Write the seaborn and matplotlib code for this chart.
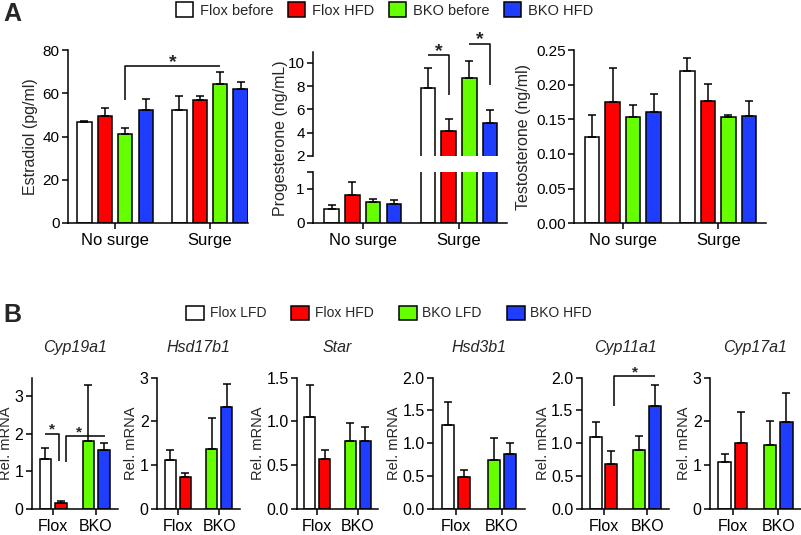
import matplotlib
matplotlib.use("Agg")
import matplotlib.pyplot as plt
import seaborn as sns
import pandas as pd
from matplotlib.patches import Patch

# ---------------------------------------------------
# Data (err = upper SEM)
# ---------------------------------------------------
surge_groups = ["No surge", "Surge"]
a_conditions = ["Flox before", "Flox HFD", "BKO before", "BKO HFD"]

estradiol_no_surge = [46.6, 49.5, 41.3, 52.1]
estradiol_surge = [52.4, 56.7, 64.1, 62.0]
estradiol_err_no_surge = [0.7, 3.5, 2.8, 5.1]
estradiol_err_surge = [6.3, 2.0, 5.6, 3.3]

progesterone_no_surge = [0.42, 0.83, 0.62, 0.55]
progesterone_surge = [7.80, 4.14, 8.72, 4.80]
progesterone_err_no_surge = [0.11, 0.35, 0.09, 0.11]
progesterone_err_surge = [1.78, 1.03, 1.43, 1.12]

testosterone_no_surge = [0.125, 0.175, 0.154, 0.161]
testosterone_surge = [0.219, 0.176, 0.154, 0.155]
testosterone_err_no_surge = [0.031, 0.049, 0.016, 0.026]
testosterone_err_surge = [0.019, 0.025, 0.002, 0.021]

genotypes = ["Flox", "BKO"]
diets = ["LFD", "HFD"]
b_conditions = ["Flox LFD", "Flox HFD", "BKO LFD", "BKO HFD"]
genes = ["Cyp19a1", "Hsd17b1", "Star", "Hsd3b1", "Cyp11a1", "Cyp17a1"]
# order: Flox LFD, Flox HFD, BKO LFD, BKO HFD
cyp19a1_mean = [1.34, 0.17, 1.80, 1.58]
cyp19a1_err = [0.28, 0.04, 1.51, 0.17]
hsd17b1_mean = [1.11, 0.73, 1.37, 2.33]
hsd17b1_err = [0.23, 0.08, 0.70, 0.53]
star_mean = [1.05, 0.57, 0.78, 0.78]
star_err = [0.36, 0.10, 0.20, 0.15]
hsd3b1_mean = [1.27, 0.48, 0.75, 0.84]
hsd3b1_err = [0.36, 0.11, 0.33, 0.17]
cyp11a1_mean = [1.10, 0.68, 0.90, 1.56]
cyp11a1_err = [0.23, 0.20, 0.21, 0.33]
cyp17a1_mean = [1.07, 1.50, 1.46, 1.99]
cyp17a1_err = [0.18, 0.71, 0.54, 0.65]

colors = ["#ffffff", "#ff0000", "#66ff00", "#1f3dff"]

# ---------------------------------------------------
# Style / helpers
# ---------------------------------------------------
sns.set_theme(style="ticks")
plt.rcParams["font.family"] = ["Liberation Sans", "DejaVu Sans"]
LW = 1.1
W, H = 801, 535

fig = plt.figure(figsize=(W / 100, H / 100), dpi=100)


def px_axes(left, top, right, bottom):
    return fig.add_axes([left / W, 1 - bottom / H, (right - left) / W, (bottom - top) / H])


def style_axes(ax, ticksize, xsize):
    sns.despine(ax=ax)
    for s in ["left", "bottom"]:
        ax.spines[s].set_linewidth(LW)
        ax.spines[s].set_color("black")
    ax.tick_params(width=LW, length=4, pad=2, color="black", labelcolor="black")
    ax.tick_params(axis="y", labelsize=ticksize)
    ax.tick_params(axis="x", labelsize=xsize, pad=3)
    ax.set_xlabel("")


def draw_bars(ax, df, x, hue, order, hue_order, palette, width, gap):
    sns.barplot(data=df, x=x, y="mean", hue=hue, order=order, hue_order=hue_order,
                palette=palette, saturation=1, width=width, gap=gap, errorbar=None,
                edgecolor="black", linewidth=LW, legend=False, ax=ax)
    centers = {}
    for cont, h in zip(ax.containers, hue_order):
        for bar in cont:
            cx = bar.get_x() + bar.get_width() / 2
            g = order[int(round(cx))]
            centers[(g, h)] = cx
            r = df[(df[x] == g) & (df[hue] == h)].iloc[0]
            ax.errorbar(cx, r["mean"], yerr=[[0], [r["err"]]], fmt="none", ecolor="black",
                        elinewidth=LW, capsize=2.8, capthick=LW)
    return centers


def bracket(ax, xs, ys):
    ax.plot(xs, ys, color="black", lw=LW, clip_on=False, solid_capstyle="butt")


def star(ax, x, y, size, dy=0):
    ax.annotate("*", xy=(x, y), xytext=(0, dy), textcoords="offset points",
                ha="center", va="baseline", fontsize=size, fontweight="bold",
                annotation_clip=False)


def surge_frame(ns, s, ens, es):
    return pd.DataFrame({"group": [surge_groups[0]] * 4 + [surge_groups[1]] * 4,
                         "cond": a_conditions * 2,
                         "mean": ns + s,
                         "err": ens + es})


# ---------------------------------------------------
# Panel A
# ---------------------------------------------------
estr = surge_frame(estradiol_no_surge, estradiol_surge, estradiol_err_no_surge, estradiol_err_surge)
prog = surge_frame(progesterone_no_surge, progesterone_surge, progesterone_err_no_surge, progesterone_err_surge)
test = surge_frame(testosterone_no_surge, testosterone_surge, testosterone_err_no_surge, testosterone_err_surge)

# Estradiol
ax = px_axes(68, 50, 248, 223)
c = draw_bars(ax, estr, "group", "cond", surge_groups, a_conditions, colors, 0.86, 0.3)
style_axes(ax, 11, 12)
ax.set_ylim(0, 80)
ax.set_xlim(-0.495, 1.40)
ax.set_yticks([0, 20, 40, 60, 80])
ax.set_ylabel("Estradiol (pg/ml)", fontsize=11.5, labelpad=3)
x0, x1 = c[("No surge", "BKO before")], c[("Surge", "BKO before")]
bracket(ax, [x0, x0, x1], [56.9, 72.6, 72.6])
star(ax, (x0 + x1) / 2, 72.6, 14, -1)

# Progesterone (broken axis)
ax_up = px_axes(313, 51.7, 507, 156)
ax_lo = px_axes(313, 171.5, 507, 223)
for a in (ax_up, ax_lo):
    c = draw_bars(a, prog, "group", "cond", surge_groups, a_conditions, colors, 0.86, 0.3)
    style_axes(a, 11, 12)
    a.set_xlim(-0.516, 1.498)
    a.set_ylabel("")
ax_up.set_ylim(2, 10.95)
ax_up.set_yticks([2, 4, 6, 8, 10])
ax_up.spines["bottom"].set_visible(False)
ax_up.tick_params(axis="x", bottom=False, labelbottom=False)
ax_lo.set_ylim(0, 1.5)
ax_lo.set_yticks([0, 1, 1.5])
ax_lo.set_yticklabels(["0", "1", ""])
fig.text(280 / W, 1 - 138 / H, "Progesterone (ng/mL)", rotation=90, ha="center", va="center",
         fontsize=11.5)
x0, x1 = c[("Surge", "Flox before")], c[("Surge", "Flox HFD")]
bracket(ax_up, [x0, x1, x1], [10.66, 10.66, 7.23])
star(ax_up, (x0 + x1) / 2, 10.66, 14, -1)
x0, x1 = c[("Surge", "BKO before")], c[("Surge", "BKO HFD")]
bracket(ax_up, [x0, x1, x1], [11.6, 11.6, 8.1])
star(ax_up, (x0 + x1) / 2, 11.6, 14, 0)

# Testosterone
ax = px_axes(574.3, 50, 766, 223.3)
draw_bars(ax, test, "group", "cond", surge_groups, a_conditions, colors, 0.86, 0.3)
style_axes(ax, 11, 12)
ax.set_ylim(0, 0.25)
ax.set_xlim(-0.508, 1.501)
ax.set_yticks([0, 0.05, 0.10, 0.15, 0.20, 0.25])
ax.set_yticklabels([f"{v:.2f}" for v in [0, 0.05, 0.10, 0.15, 0.20, 0.25]])
ax.set_ylabel("Testosterone (ng/ml)", fontsize=11.5, labelpad=4)

fig.text(3 / W, 1 - 14 / H, "A", fontsize=18, fontweight="bold", va="center", ha="left")
handles_a = [Patch(facecolor=col, edgecolor="black", linewidth=LW, label=lab)
             for col, lab in zip(colors, a_conditions)]
fig.legend(handles=handles_a, loc="center", bbox_to_anchor=(385 / W, 1 - 10 / H), ncol=4,
           frameon=False, fontsize=10.5, handlelength=1.15, handleheight=1.15,
           handletextpad=0.5, columnspacing=1.0, borderpad=0, borderaxespad=0)

# ---------------------------------------------------
# Panel B
# ---------------------------------------------------
gene_means = [cyp19a1_mean, hsd17b1_mean, star_mean, hsd3b1_mean, cyp11a1_mean, cyp17a1_mean]
gene_errs = [cyp19a1_err, hsd17b1_err, star_err, hsd3b1_err, cyp11a1_err, cyp17a1_err]
b_boxes = [(31.7, 117.5), (157, 240), (297, 378), (433, 525), (581.7, 669), (710, 801)]
b_ylims = [3.5, 3, 1.5, 2, 2, 3]
b_ticks = [[0, 1, 2, 3], [0, 1, 2, 3], [0, 0.5, 1.0, 1.5], [0, 0.5, 1.0, 1.5, 2.0],
           [0, 0.5, 1.0, 1.5, 2.0], [0, 1, 2, 3]]
b_colors = dict(zip(b_conditions, colors))

b_axes = {}
b_centers = {}
for gene, means, errs, (l, r), ytop, ticks in zip(genes, gene_means, gene_errs, b_boxes,
                                                  b_ylims, b_ticks):
    df = pd.DataFrame({"geno": [g for g in genotypes for _ in diets],
                       "diet": diets * 2, "mean": means, "err": errs})
    ax = px_axes(l, 377.5, r, 509)
    c = draw_bars(ax, df, "geno", "diet", genotypes, diets, ["white", "white"], 0.72, 0.25)
    for cont, h in zip(ax.containers, diets):
        for bar in cont:
            g = genotypes[int(round(bar.get_x() + bar.get_width() / 2))]
            bar.set_facecolor(b_colors[f"{g} {h}"])
    style_axes(ax, 11.5, 11.5)
    ax.set_xlim(-0.5, 1.5)
    ax.set_ylim(0, ytop)
    ax.set_yticks(ticks)
    if isinstance(ticks[1], float):
        ax.set_yticklabels([f"{t:.1f}" for t in ticks])
    ax.set_ylabel("Rel. mRNA", fontsize=10.5, labelpad=1)
    ax.text(0.5, 1.225, gene, transform=ax.transAxes, ha="center", va="center",
            fontsize=11.5, style="italic")
    b_axes[gene] = ax
    b_centers[gene] = c

# significance brackets
ax, c = b_axes["Cyp19a1"], b_centers["Cyp19a1"]
x0, x1 = c[("Flox", "LFD")], c[("Flox", "HFD")] - 0.044
bracket(ax, [x0, x1, x1], [2.0, 2.0, 1.27])
star(ax, (x0 + x1) / 2, 2.0, 11, 0)
x0, x1 = c[("Flox", "HFD")] + 0.11, c[("BKO", "HFD")] + 0.035
bracket(ax, [x0, x0, x1], [1.25, 1.94, 1.94])
star(ax, x0 + 0.33 * (x1 - x0), 1.94, 11, 0)

ax, c = b_axes["Cyp11a1"], b_centers["Cyp11a1"]
x0, x1 = c[("Flox", "HFD")] + 0.07, c[("BKO", "HFD")]
bracket(ax, [x0, x0, x1], [1.56, 2.02, 2.02])
star(ax, (x0 + x1) / 2, 2.02, 11, 0)

fig.text(3 / W, 1 - 315 / H, "B", fontsize=18, fontweight="bold", va="center", ha="left")
handles_b = [Patch(facecolor=col, edgecolor="black", linewidth=LW, label=lab)
             for col, lab in zip(colors, b_conditions)]
fig.legend(handles=handles_b, loc="center", bbox_to_anchor=(389 / W, 1 - 313 / H), ncol=4,
           frameon=False, fontsize=10, handlelength=1.3, handleheight=1.2,
           handletextpad=0.4, columnspacing=1.8, borderpad=0, borderaxespad=0)

fig.savefig("out.png", dpi=100)
